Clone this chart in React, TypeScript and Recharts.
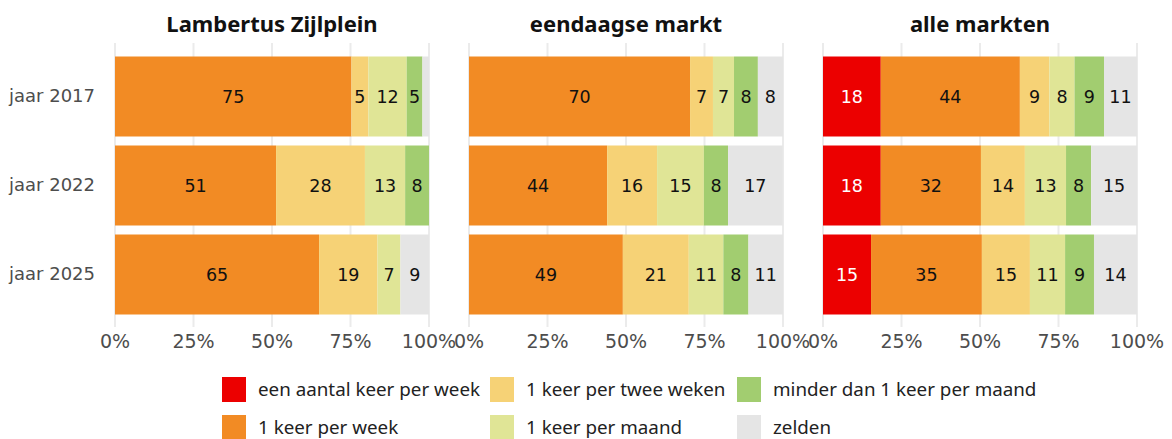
import { Bar, BarChart, CartesianGrid, LabelList, XAxis, YAxis } from "recharts";

const years = ["jaar 2017", "jaar 2022", "jaar 2025"];
const seriesKeys = ["aantal", "week", "tweeWeken", "maand", "minder", "zelden"];
const seriesNames = [
  "een aantal keer per week",
  "1 keer per week",
  "1 keer per twee weken",
  "1 keer per maand",
  "minder dan 1 keer per maand",
  "zelden",
];
const seriesColors = ["#EC0000", "#F28B24", "#F6D276", "#E0E596", "#A2CD70", "#E5E5E5"];
const xTicks = [0, 25, 50, 75, 100];

const panelTitles = ["Lambertus Zijlplein", "eendaagse markt", "alle markten"];
// one row per year, values in series order
const lambertusZijlplein = [
  [0, 75.3, 5.4, 12.2, 5.0, 2.1],
  [0, 51.3, 28.3, 12.8, 7.6, 0],
  [0, 65.0, 18.6, 7.3, 0, 9.1],
];
const eendaagseMarkt = [
  [0, 70.4, 7.3, 6.7, 7.6, 8.0],
  [0, 44.0, 15.9, 14.9, 7.7, 17.4],
  [0, 49.0, 21.0, 11.0, 8.0, 11.0],
];
const alleMarkten = [
  [18.4, 44.3, 9.4, 8.0, 9.4, 10.5],
  [18.4, 31.9, 14.0, 13.1, 8.0, 14.6],
  [15.3, 35.3, 15.3, 11.2, 9.2, 13.7],
];

const panels = [lambertusZijlplein, eendaagseMarkt, alleMarkten];
const font = "'DejaVu Sans', sans-serif";
const textFont = "'Noto Sans', sans-serif";

const layout = [
  { left: 0, width: 480, marginLeft: 0, yWidth: 115 },
  { left: 429, width: 420, marginLeft: 40, yWidth: 0 },
  { left: 783, width: 389, marginLeft: 40, yWidth: 0 },
];
const plotWidth = 314;

function Panel({ idx }: { idx: number }) {
  const l = layout[idx];
  const data = years.map((y, i) => {
    const row: Record<string, string | number> = { year: y };
    seriesKeys.forEach((k, j) => (row[k] = panels[idx][i][j]));
    return row;
  });
  const plotLeft = l.left + l.marginLeft + l.yWidth;
  return (
    <>
      <div
        style={{
          position: "absolute",
          left: plotLeft,
          top: 8,
          width: plotWidth,
          textAlign: "center",
          fontFamily: textFont,
          fontWeight: 700,
          fontSize: 22,
          color: "#111",
        }}
      >
        {panelTitles[idx]}
      </div>
      <div style={{ position: "absolute", left: l.left, top: 0 }}>
        <BarChart
          width={l.width}
          height={360}
          data={data}
          layout="vertical"
          margin={{
            top: 43,
            bottom: 0,
            left: l.marginLeft,
            right: l.width - l.marginLeft - l.yWidth - plotWidth,
          }}
        >
          <CartesianGrid horizontal={false} stroke="#EBEBEB" strokeWidth={2} />
          <XAxis
            type="number"
            domain={[0, 100]}
            ticks={xTicks}
            tickFormatter={(v) => `${v}%`}
            axisLine={false}
            tickLine={false}
            height={33}
            tick={{ fontFamily: font, fontSize: 19, fill: "#4D4D4D" }}
          />
          <YAxis
            type="category"
            dataKey="year"
            hide={idx > 0}
            width={l.yWidth}
            axisLine={false}
            tickLine={false}
            tickMargin={14}
            padding={{ top: 8.5, bottom: 8.5 }}
            tick={{ fontFamily: font, fontSize: 18, fill: "#4D4D4D" }}
          />
          {seriesKeys.map((k, j) => (
            <Bar
              key={k}
              dataKey={k}
              stackId="a"
              fill={seriesColors[j]}
              barSize={80}
              isAnimationActive={false}
            >
              <LabelList
                dataKey={k}
                position="center"
                formatter={(v: any) => (Number(v) >= 4 ? Math.round(Number(v)) : "")}
                fill={j === 0 ? "#FFFFFF" : "#111111"}
                style={{ fontFamily: font, fontSize: 17.5 }}
              />
            </Bar>
          ))}
        </BarChart>
      </div>
    </>
  );
}

function Legend() {
  return (
    <div
      style={{
        position: "absolute",
        left: 222,
        top: 377,
        display: "grid",
        gridTemplateColumns: "268px 247px auto",
        gridTemplateRows: "38px 38px",
        gridAutoFlow: "column",
        fontFamily: textFont,
        fontSize: 18.8,
        color: "#222",
      }}
    >
      {seriesNames.map((n, j) => (
        <div key={n} style={{ display: "flex", alignItems: "flex-start" }}>
          <div style={{ width: 24, height: 25, background: seriesColors[j], marginRight: 12 }} />
          <span style={{ lineHeight: "24px", whiteSpace: "nowrap" }}>{n}</span>
        </div>
      ))}
    </div>
  );
}

export default function App() {
  return (
    <div
      style={{
        position: "absolute",
        left: 0,
        top: 0,
        width: 1172,
        height: 439,
        background: "#fff",
        overflow: "hidden",
      }}
    >
      {[0, 1, 2].map((i) => (
        <Panel key={i} idx={i} />
      ))}
      <Legend />
    </div>
  );
}
